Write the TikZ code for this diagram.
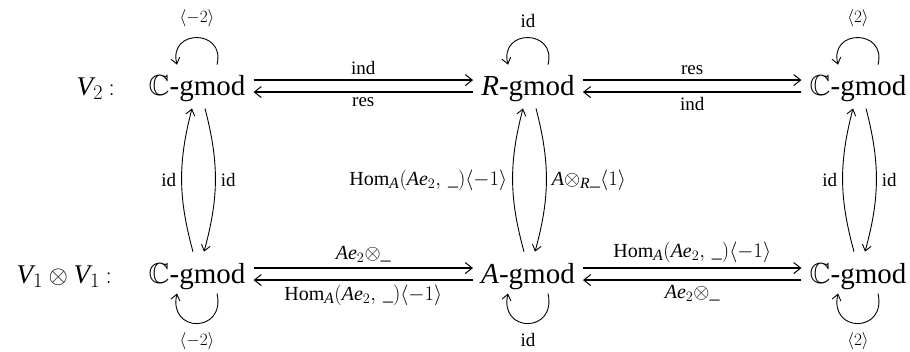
\documentclass[tikz,border=0pt]{standalone}
\usepackage{amsmath,amssymb}
\usepackage{fontspec}
\setmainfont{Liberation Serif}
\usetikzlibrary{arrows.meta}
\renewcommand{\defaultscriptratio}{.78}
\renewcommand{\defaultscriptscriptratio}{.6}
\newcommand{\HomL}{$\mathrm{Hom}_{\mathit{A}}(\mathit{Ae}_{2},\,\text{\_})\langle -1\rangle$}
\newcommand{\AeL}{$\mathit{Ae}_{2}{\otimes}\text{\_}$}
\begin{document}
\begin{tikzpicture}[x=1pt,y=-1pt,
  obj/.style={font=\fontsize{29}{32}\selectfont, inner sep=0pt, anchor=base},
  rowlab/.style={font=\fontsize{27}{30}\selectfont, inner sep=0pt, anchor=base east},
  lab/.style={font=\fontsize{19}{21}\selectfont, inner sep=1pt},
  mlab/.style={font=\fontsize{20}{22}\selectfont, inner sep=1pt},
  harr/.style={line width=2.4pt, -{Straight Barb[length=7pt,width=11pt,line width=1pt]}},
  carr/.style={line width=0.9pt, -{Straight Barb[length=6pt,width=9pt]}}]
\useasboundingbox (0,0) rectangle (910,351);
% row labels
\node[rowlab] (r2) at (115,95) {$\mathit{V}_2\:{:}$};
\node[rowlab] (r1) at (112,283) {$\mathit{V}_1\otimes\mathit{V}_1\:{:}$};
% objects
\node[obj] (tl) at (197,95) {$\mathbb{C}$-gmod};
\node[obj] (tm) at (528,95) {\textit{R}-gmod};
\node[obj] (tr) at (858,95) {$\mathbb{C}$-gmod};
\node[obj] (bl) at (197,283) {$\mathbb{C}$-gmod};
\node[obj] (bm) at (528,283) {\textit{A}-gmod};
\node[obj] (br) at (858,283) {$\mathbb{C}$-gmod};
% horizontal arrows, top
\draw[harr] ([xshift=8,yshift=8]tl.east) -- ([xshift=-8,yshift=8]tm.west)
  node[lab,midway,above=3pt] (l1) {ind};
\draw[harr] ([xshift=-8,yshift=-4]tm.west) -- ([xshift=8,yshift=-4]tl.east)
  node[lab,midway,below=3pt] (l2) {res};
\draw[harr] ([xshift=8,yshift=8]tm.east) -- ([xshift=-8,yshift=8]tr.west)
  node[lab,midway,above=3pt] (l3) {res};
\draw[harr] ([xshift=-8,yshift=-4]tr.west) -- ([xshift=8,yshift=-4]tm.east)
  node[lab,midway,below=3pt] (l4) {ind};
% horizontal arrows, bottom
\draw[harr] ([xshift=8,yshift=8]bl.east) -- ([xshift=-8,yshift=8]bm.west)
  node[mlab,midway,above=3pt] (l5) {\AeL};
\draw[harr] ([xshift=-8,yshift=-4]bm.west) -- ([xshift=8,yshift=-4]bl.east)
  node[mlab,midway,below=3pt] (l6) {\HomL};
\draw[harr] ([xshift=8,yshift=8]bm.east) -- ([xshift=-8,yshift=8]br.west)
  node[mlab,midway,above=3pt] (l7) {\HomL};
\draw[harr] ([xshift=-8,yshift=-4]br.west) -- ([xshift=8,yshift=-4]bm.east)
  node[mlab,midway,below=3pt] (l8) {\AeL};
% vertical arrows
\foreach \t/\b in {tl/bl, tr/br}{
  \draw[carr] ([xshift=-4,yshift=11]\b.north) to[bend left=15]
    node[lab,midway,left=4pt] {id} ([xshift=-5,yshift=-7]\t.south);
  \draw[carr] ([xshift=8,yshift=-7]\t.south) to[bend left=15]
    node[lab,midway,right=4pt] {id} ([xshift=7,yshift=11]\b.north);
}
\draw[carr] ([xshift=-4,yshift=11]bm.north) to[bend left=15]
  node[mlab,midway,left=4pt] (l9) {\HomL} ([xshift=-5,yshift=-7]tm.south);
\draw[carr] ([xshift=8,yshift=-7]tm.south) to[bend left=15]
  node[mlab,midway,right=4pt] (l10) {$\mathit{A}{\otimes}_{\mathit{R}}\text{\_}\langle 1\rangle$} ([xshift=7,yshift=11]bm.north);
% loops top
\foreach \n/\t in {tl/{$\langle -2\rangle$}, tm/{id}, tr/{$\langle 2\rangle$}}{
  \draw[carr] ([xshift=20,yshift=10]\n.north) .. controls +(9,-36) and +(-9,-36) ..
    ([xshift=-20,yshift=10]\n.north) node[lab,pos=0.5,above=9pt] {\t};
}
% loops bottom
\foreach \n/\t in {bl/{$\langle -2\rangle$}, bm/{id}, br/{$\langle 2\rangle$}}{
  \draw[carr] ([xshift=20,yshift=-4]\n.south) .. controls +(9,40) and +(-9,40) ..
    ([xshift=-20,yshift=-4]\n.south) node[lab,pos=0.5,below=8pt] {\t};
}
\end{tikzpicture}
\end{document}
